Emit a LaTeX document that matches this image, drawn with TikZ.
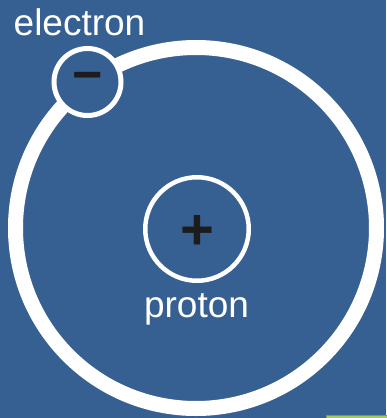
\documentclass[tikz,border=0pt]{standalone}
\usepackage{fontspec}
\setmainfont{Liberation Sans}
\usepackage{tikz}
\usepackage{xcolor}
\usetikzlibrary{positioning,calc}
\definecolor{slide}{HTML}{376092}
\definecolor{chalk}{HTML}{FFFFFF}
\definecolor{ink}{HTML}{1C1C1C}
\definecolor{leaf}{HTML}{A6CB5C}
\definecolor{leafedge}{HTML}{7E9E45}
\tikzset{
  orbit/.style={draw=chalk,line width=15pt},
  particle/.style={circle,draw=chalk,fill=slide,line width=4.5pt,inner sep=0pt},
  sign/.style={text=ink,font=\bfseries,inner sep=0pt},
  tag/.style={text=chalk,font=\fontsize{37}{42}\selectfont,inner sep=0pt,anchor=base}
}

\begin{document}
\begin{tikzpicture}[x=1pt,y=-1pt]
      \fill[slide] (0,0) rectangle (386,418);
      \useasboundingbox (0,0) rectangle (386,418);
      \coordinate (core) at (196,228);
      \draw[orbit] (core) circle[radius=180.5pt];
      \node[particle,minimum size=103.5pt] (proton) at (197,229) {};
      \node[particle,line width=5pt,minimum size=67pt] (electron) at (87.5,82) {};
      \node[sign,font=\bfseries\fontsize{58}{60}\selectfont] (plus) at (197.5,232.5) {+};
      \node[sign,font=\bfseries\fontsize{52}{60}\selectfont] (minus) at (88,82) {−};
      \node[tag] (elabel) at (79.5,35) {electron};
      \node[tag] (plabel) at (196.5,317) {proton};
      \filldraw[fill=leaf,draw=leafedge,line width=0.6pt] (326.5,415.5) rectangle (390,422);
    \end{tikzpicture}
\end{document}
